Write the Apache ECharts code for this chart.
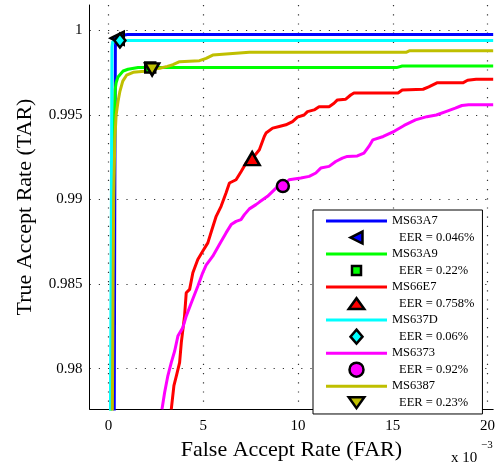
<!DOCTYPE html>
<html><head><meta charset="utf-8">
<script src="https://cdn.jsdelivr.net/npm/echarts@6/dist/echarts.min.js"></script>
<style>html,body{margin:0;padding:0;background:#fff}#c{width:498px;height:466px}</style>
</head><body><div id="c"></div>
<script>
// ---------- data ----------
const seriesNames = ['MS63A7', 'MS63A9', 'MS66E7', 'MS637D', 'MS6373', 'MS6387'];
const eerPercent = [0.046, 0.22, 0.758, 0.06, 0.92, 0.23];
const xTickLabels = ['0', '5', '10', '15', '20'];
const yTickLabels = ['0.98', '0.985', '0.99', '0.995', '1'];
const xAxisTitle = 'False Accept Rate (FAR)';
const yAxisTitle = 'True Accept Rate (TAR)';
const xScaleNote = 'x 10';
const xScaleExp = '\u22123';

// FAR in units of 1e-3, TAR
const curveMS63A7 = [[0.30,0.9770],[0.33,0.9900],[0.36,0.9990],[0.40,0.99955],[0.60,0.99968],[1.0,0.99975],[20.3,0.99975]];
const curveMS63A9 = [[0.12,0.9770],[0.20,0.9850],[0.28,0.9930],[0.35,0.9965],[0.40,0.9969],[0.50,0.99725],[0.77,0.9976],[1.03,0.9977],[1.56,0.9978],[2.2,0.9978],[15.2,0.9978],[15.5,0.99789],[20.3,0.99789]];
const curveMS66E7 = [[3.31,0.9776],[3.45,0.9790],[3.58,0.97958],[3.75,0.98036],[3.84,0.98154],[4.01,0.98311],[4.10,0.98449],[4.28,0.98469],[4.45,0.98567],[4.71,0.98646],[5.0,0.9870],[5.24,0.98744],[5.45,0.9882],[5.68,0.98901],[5.94,0.9896],[6.2,0.99039],[6.38,0.99098],[6.73,0.99117],[7.0,0.99166],[7.26,0.99216],[7.58,0.99242],[7.96,0.99294],[8.22,0.99373],[8.31,0.99393],[8.66,0.99422],[9.01,0.99432],[9.36,0.99442],[9.71,0.99461],[9.97,0.99487],[10.32,0.995],[10.5,0.9952],[10.85,0.9953],[11.11,0.99549],[11.64,0.99549],[11.9,0.99569],[12.08,0.99589],[12.52,0.99593],[12.78,0.99618],[12.95,0.9963],[15.28,0.9963],[15.5,0.99648],[16.6,0.99652],[16.9,0.99666],[17.33,0.9969],[18.7,0.9969],[18.95,0.99705],[19.4,0.99711],[20.3,0.99711]];
const curveMS637D = [[0.10,0.9770],[0.15,0.9900],[0.18,0.9990],[0.22,0.99935],[0.60,0.9994],[20.3,0.9994]];
const curveMS6373 = [[2.82,0.9776],[2.96,0.97859],[3.13,0.97958],[3.31,0.98036],[3.49,0.98105],[3.66,0.98193],[3.92,0.98243],[4.1,0.98311],[4.37,0.9839],[4.54,0.98439],[4.71,0.98488],[4.97,0.98567],[5.15,0.98612],[5.5,0.98665],[5.85,0.98734],[6.2,0.98803],[6.47,0.98852],[6.73,0.98871],[6.99,0.98881],[7.17,0.98911],[7.43,0.98945],[7.78,0.9897],[7.96,0.98985],[8.39,0.99019],[8.84,0.99068],[9.2,0.9908],[9.53,0.99117],[10.15,0.99127],[10.59,0.99137],[10.94,0.99157],[11.2,0.99186],[11.64,0.99196],[11.99,0.99225],[12.34,0.99245],[12.6,0.99255],[13.13,0.99258],[13.48,0.99275],[13.74,0.99314],[13.95,0.99353],[14.5,0.99373],[15.1,0.99405],[15.6,0.99438],[16.2,0.99471],[16.8,0.9949],[17.3,0.995],[17.8,0.9952],[18.3,0.9954],[18.65,0.99556],[19.0,0.9956],[20.3,0.9956]];
const curveMS6387 = [[0.20,0.9770],[0.24,0.9850],[0.27,0.9900],[0.33,0.9935],[0.40,0.9950],[0.50,0.9958],[0.60,0.9964],[0.75,0.9970],[0.95,0.99735],[1.3,0.99752],[1.9,0.99758],[2.3,0.9977],[2.7,0.99776],[3.1,0.99787],[3.4,0.99797],[3.75,0.99815],[4.8,0.99821],[5.15,0.99835],[5.5,0.99854],[6.55,0.99864],[7.43,0.9987],[15.7,0.9987],[15.9,0.9988],[20.3,0.9988]];
const curves = [curveMS63A7, curveMS63A9, curveMS66E7, curveMS637D, curveMS6373, curveMS6387];

// ---------- styles ----------
const FONT = 'Liberation Serif';
const colors = ['#0000ff', '#00ff00', '#ff0000', '#00ffff', '#ff00ff', '#bfbf00'];
const markerSymbols = [
  'path://M0,6.5L13,0L13,13Z',
  'rect',
  'path://M0,13L7.5,0L15,13Z',
  'path://M6,0L12,7L6,14L0,7Z',
  'circle',
  'path://M0,0L15,0L7.5,13Z'
];
const markerSizes = [[13, 13], 10, [15, 13], [11, 14], 12, [14, 12]];
const legendMarkerIcons = [
  'path://M0,0M1,7L13,1L13,13ZM14,14',
  'path://M0,0M2.5,2.5L11.5,2.5L11.5,11.5L2.5,11.5ZM14,14',
  'path://M0,0M0,12L7.5,1.5L15,12ZM15,13.5',
  'path://M6,0L12,7L6,14L0,7Z',
  'circle',
  'path://M0,0M0,1.5L15,1.5L7.5,12ZM15,13.5'
];

const series = [];
const legendData = [];
for (let i = 0; i < seriesNames.length; i++) {
  series.push({
    name: seriesNames[i], type: 'line', data: curves[i], symbol: 'none',
    lineStyle: { color: colors[i], width: 3 }, itemStyle: { color: colors[i] },
    z: 2, animation: false, silent: true
  });
}
for (let i = 0; i < seriesNames.length; i++) {
  const eer = eerPercent[i];
  const eerName = 'EER = ' + eer + '%';
  series.push({
    name: eerName, type: 'scatter', data: [[eer * 10, 1 - eer / 100]],
    symbol: markerSymbols[i], symbolSize: markerSizes[i],
    itemStyle: { color: colors[i], borderColor: '#000', borderWidth: 2.5, opacity: 1 },
    z: 5, animation: false, silent: true
  });
  legendData.push({ name: seriesNames[i], icon: 'path://M0,0L61,0L61,3L0,3Z', itemStyle: { borderWidth: 0 } });
  legendData.push({ name: eerName, icon: legendMarkerIcons[i], itemStyle: { borderColor: '#000', borderWidth: 2.5 }, textStyle: { padding: [0, 0, 0, 7] } });
}

function pickLabel(list, v) {
  const s = list.find(t => Math.abs(parseFloat(t) - v) < 1e-9);
  return s === undefined ? '' : s;
}

const gridDots = { type: [1.2, 8], color: '#333', width: 1.2 };

const option = {
  backgroundColor: '#fff',
  animation: false,
  textStyle: { fontFamily: FONT },
  grid: { left: 89.6, right: 3.4, top: 5, bottom: 57, containLabel: false },
  xAxis: {
    type: 'value', min: -1, max: 20.3, minInterval: 5, maxInterval: 5, splitNumber: 4,
    axisLine: { show: true, onZero: false, lineStyle: { color: '#000', width: 1 } },
    axisTick: { show: false },
    axisLabel: { color: '#000', fontFamily: FONT, fontSize: 15, margin: 10, showMinLabel: false, showMaxLabel: false,
      formatter: v => pickLabel(xTickLabels, v) },
    splitLine: { show: true, showMinLine: false, showMaxLine: false, lineStyle: gridDots },
    name: xAxisTitle, nameLocation: 'middle', nameGap: 29,
    nameTextStyle: { fontFamily: FONT, fontSize: 22, color: '#000' }
  },
  yAxis: {
    type: 'value', min: 0.97762, max: 1.0015, minInterval: 0.005, maxInterval: 0.005, splitNumber: 5,
    axisLine: { show: true, onZero: false, lineStyle: { color: '#000', width: 1 } },
    axisTick: { show: false },
    axisLabel: { color: '#000', fontFamily: FONT, fontSize: 15, margin: 7, showMinLabel: false, showMaxLabel: false,
      formatter: v => pickLabel(yTickLabels, v) },
    splitLine: { show: true, showMinLine: false, showMaxLine: false, lineStyle: gridDots },
    name: yAxisTitle, nameLocation: 'middle', nameGap: 53,
    nameTextStyle: { fontFamily: FONT, fontSize: 22, color: '#000' }
  },
  legend: {
    show: true, orient: 'vertical', left: 313, top: 210,
    padding: [4, 8, 3, 13], itemWidth: 61, itemHeight: 14, itemGap: 1.27,
    borderColor: '#000', borderWidth: 1, backgroundColor: '#fff',
    selectedMode: false,
    textStyle: { fontFamily: FONT, fontSize: 12.5, color: '#000', lineHeight: 14 },
    data: legendData, z: 10
  },
  graphic: [
    { type: 'text', left: 451, top: 451, style: { text: xScaleNote, fontFamily: FONT, fontSize: 15, fill: '#000' } },
    { type: 'text', left: 481, top: 440, style: { text: xScaleExp, fontFamily: FONT, fontSize: 11, fill: '#000' } }
  ],
  series: series
};

const chart = echarts.init(document.getElementById('c'), null, { renderer: 'canvas' });
chart.setOption(option);
</script>
</body></html>
